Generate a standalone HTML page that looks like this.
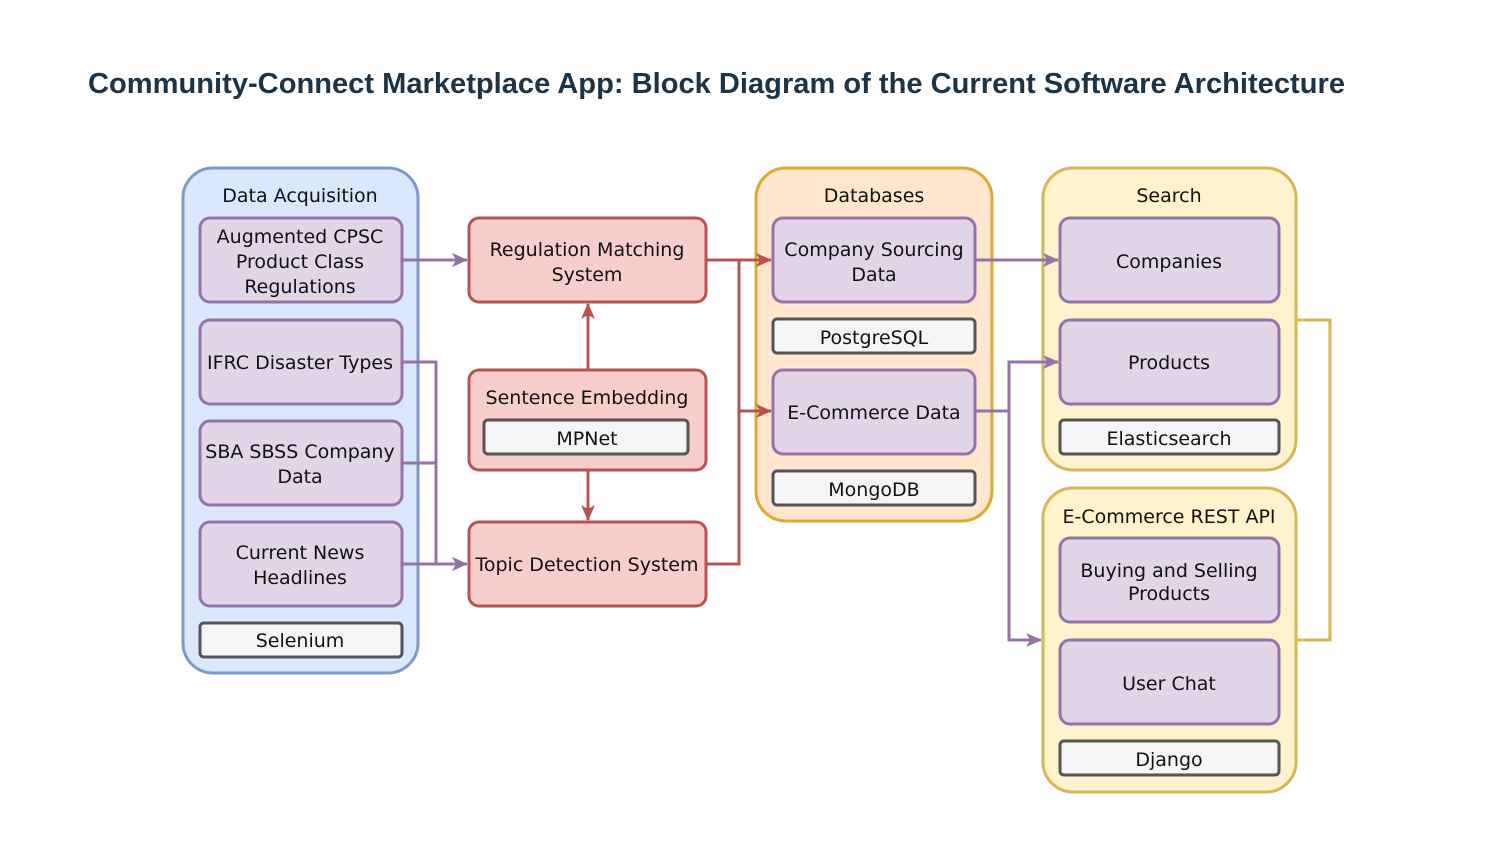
<!DOCTYPE html>
<html><head><meta charset="utf-8"><style>
body{margin:0;background:#fff;width:1500px;height:844px;overflow:hidden}
svg text{font-family:"DejaVu Sans","Liberation Sans",sans-serif;font-size:19px;fill:#111;text-anchor:middle}
</style></head><body>
<svg width="1500" height="844" xmlns="http://www.w3.org/2000/svg">
<defs>
<marker id="ap" markerWidth="16" markerHeight="16" refX="15" refY="7" orient="auto" markerUnits="userSpaceOnUse"><path d="M0,0 L16,7 L0,14 L4,7z" fill="#9673a6"/></marker>
<marker id="ar" markerWidth="16" markerHeight="16" refX="15" refY="7" orient="auto" markerUnits="userSpaceOnUse"><path d="M0,0 L16,7 L0,14 L4,7z" fill="#b85450"/></marker>
</defs>
<text x="88" y="93" textLength="1257" lengthAdjust="spacingAndGlyphs" style="font-family:'Liberation Sans',sans-serif;font-weight:bold;font-size:29px;fill:#1b3447;text-anchor:start">Community-Connect Marketplace App: Block Diagram of the Current Software Architecture</text>

<g stroke-width="3">
<rect x="183" y="168" width="235" height="505" rx="30" fill="#dae8fc" stroke="#7b9acb"/>
<rect x="756" y="168" width="236" height="353" rx="30" fill="#ffe6cc" stroke="#e0a830"/>
<rect x="1043" y="168" width="253" height="302" rx="30" fill="#fff2cc" stroke="#d6b656"/>
<rect x="1043" y="488" width="253" height="304" rx="30" fill="#fff2cc" stroke="#d6b656"/>
</g>
<path d="M1296,320 H1330 V640 H1296" fill="none" stroke="#d6b656" stroke-width="3"/>

<g fill="#e1d5e7" stroke="#9673a6" stroke-width="3">
<rect x="200" y="218" width="202" height="84" rx="10"/>
<rect x="200" y="320" width="202" height="84" rx="10"/>
<rect x="200" y="421" width="202" height="84" rx="10"/>
<rect x="200" y="522" width="202" height="84" rx="10"/>
<rect x="773" y="218" width="202" height="84" rx="10"/>
<rect x="773" y="370" width="202" height="84" rx="10"/>
<rect x="1060" y="218" width="219" height="84" rx="10"/>
<rect x="1060" y="320" width="219" height="84" rx="10"/>
<rect x="1060" y="538" width="219" height="84" rx="10"/>
<rect x="1060" y="640" width="219" height="84" rx="10"/>
</g>
<g fill="#f8cecc" stroke="#b85450" stroke-width="3">
<rect x="469" y="218" width="237" height="84" rx="10"/>
<rect x="469" y="370" width="237" height="100" rx="10"/>
<rect x="469" y="522" width="237" height="84" rx="10"/>
</g>
<g fill="#f5f5f5" stroke="#555" stroke-width="3">
<rect x="200" y="623" width="202" height="34" rx="4"/>
<rect x="484" y="420" width="204" height="34" rx="4"/>
<rect x="773" y="319" width="202" height="34" rx="4"/>
<rect x="773" y="471" width="202" height="34" rx="4"/>
<rect x="1060" y="420" width="219" height="34" rx="4"/>
<rect x="1060" y="741" width="219" height="34" rx="4"/>
</g>

<g fill="none" stroke="#9673a6" stroke-width="3">
<path d="M402,260 H467" marker-end="url(#ap)"/>
<path d="M402,362 H436 V564"/>
<path d="M402,463 H436"/>
<path d="M402,564 H467" marker-end="url(#ap)"/>
<path d="M975,260 H1058" marker-end="url(#ap)"/>
<path d="M975,411 H1009 V362 H1058" marker-end="url(#ap)"/>
<path d="M1009,411 V640 H1041" marker-end="url(#ap)"/>
</g>
<g fill="none" stroke="#b85450" stroke-width="3">
<path d="M706,260 H771" marker-end="url(#ar)"/>
<path d="M706,564 H739 V260"/>
<path d="M739,411 H771" marker-end="url(#ar)"/>
<path d="M588,370 V304" marker-end="url(#ar)"/>
<path d="M588,470 V520" marker-end="url(#ar)"/>
</g>

<text x="300" y="202">Data Acquisition</text>
<text x="300" y="243">Augmented CPSC</text>
<text x="300" y="268">Product Class</text>
<text x="300" y="293">Regulations</text>
<text x="300" y="369">IFRC Disaster Types</text>
<text x="300" y="458">SBA SBSS Company</text>
<text x="300" y="483">Data</text>
<text x="300" y="559">Current News</text>
<text x="300" y="584">Headlines</text>
<text x="300" y="647">Selenium</text>
<text x="587" y="256">Regulation Matching</text>
<text x="587" y="281">System</text>
<text x="587" y="404">Sentence Embedding</text>
<text x="587" y="445">MPNet</text>
<text x="587" y="571">Topic Detection System</text>
<text x="874" y="202">Databases</text>
<text x="874" y="256">Company Sourcing</text>
<text x="874" y="281">Data</text>
<text x="874" y="344">PostgreSQL</text>
<text x="874" y="419">E-Commerce Data</text>
<text x="874" y="496">MongoDB</text>
<text x="1169" y="202">Search</text>
<text x="1169" y="268">Companies</text>
<text x="1169" y="369">Products</text>
<text x="1169" y="445">Elasticsearch</text>
<text x="1169" y="523">E-Commerce REST API</text>
<text x="1169" y="577">Buying and Selling</text>
<text x="1169" y="600">Products</text>
<text x="1169" y="690">User Chat</text>
<text x="1169" y="766">Django</text>
</svg>
</body></html>
